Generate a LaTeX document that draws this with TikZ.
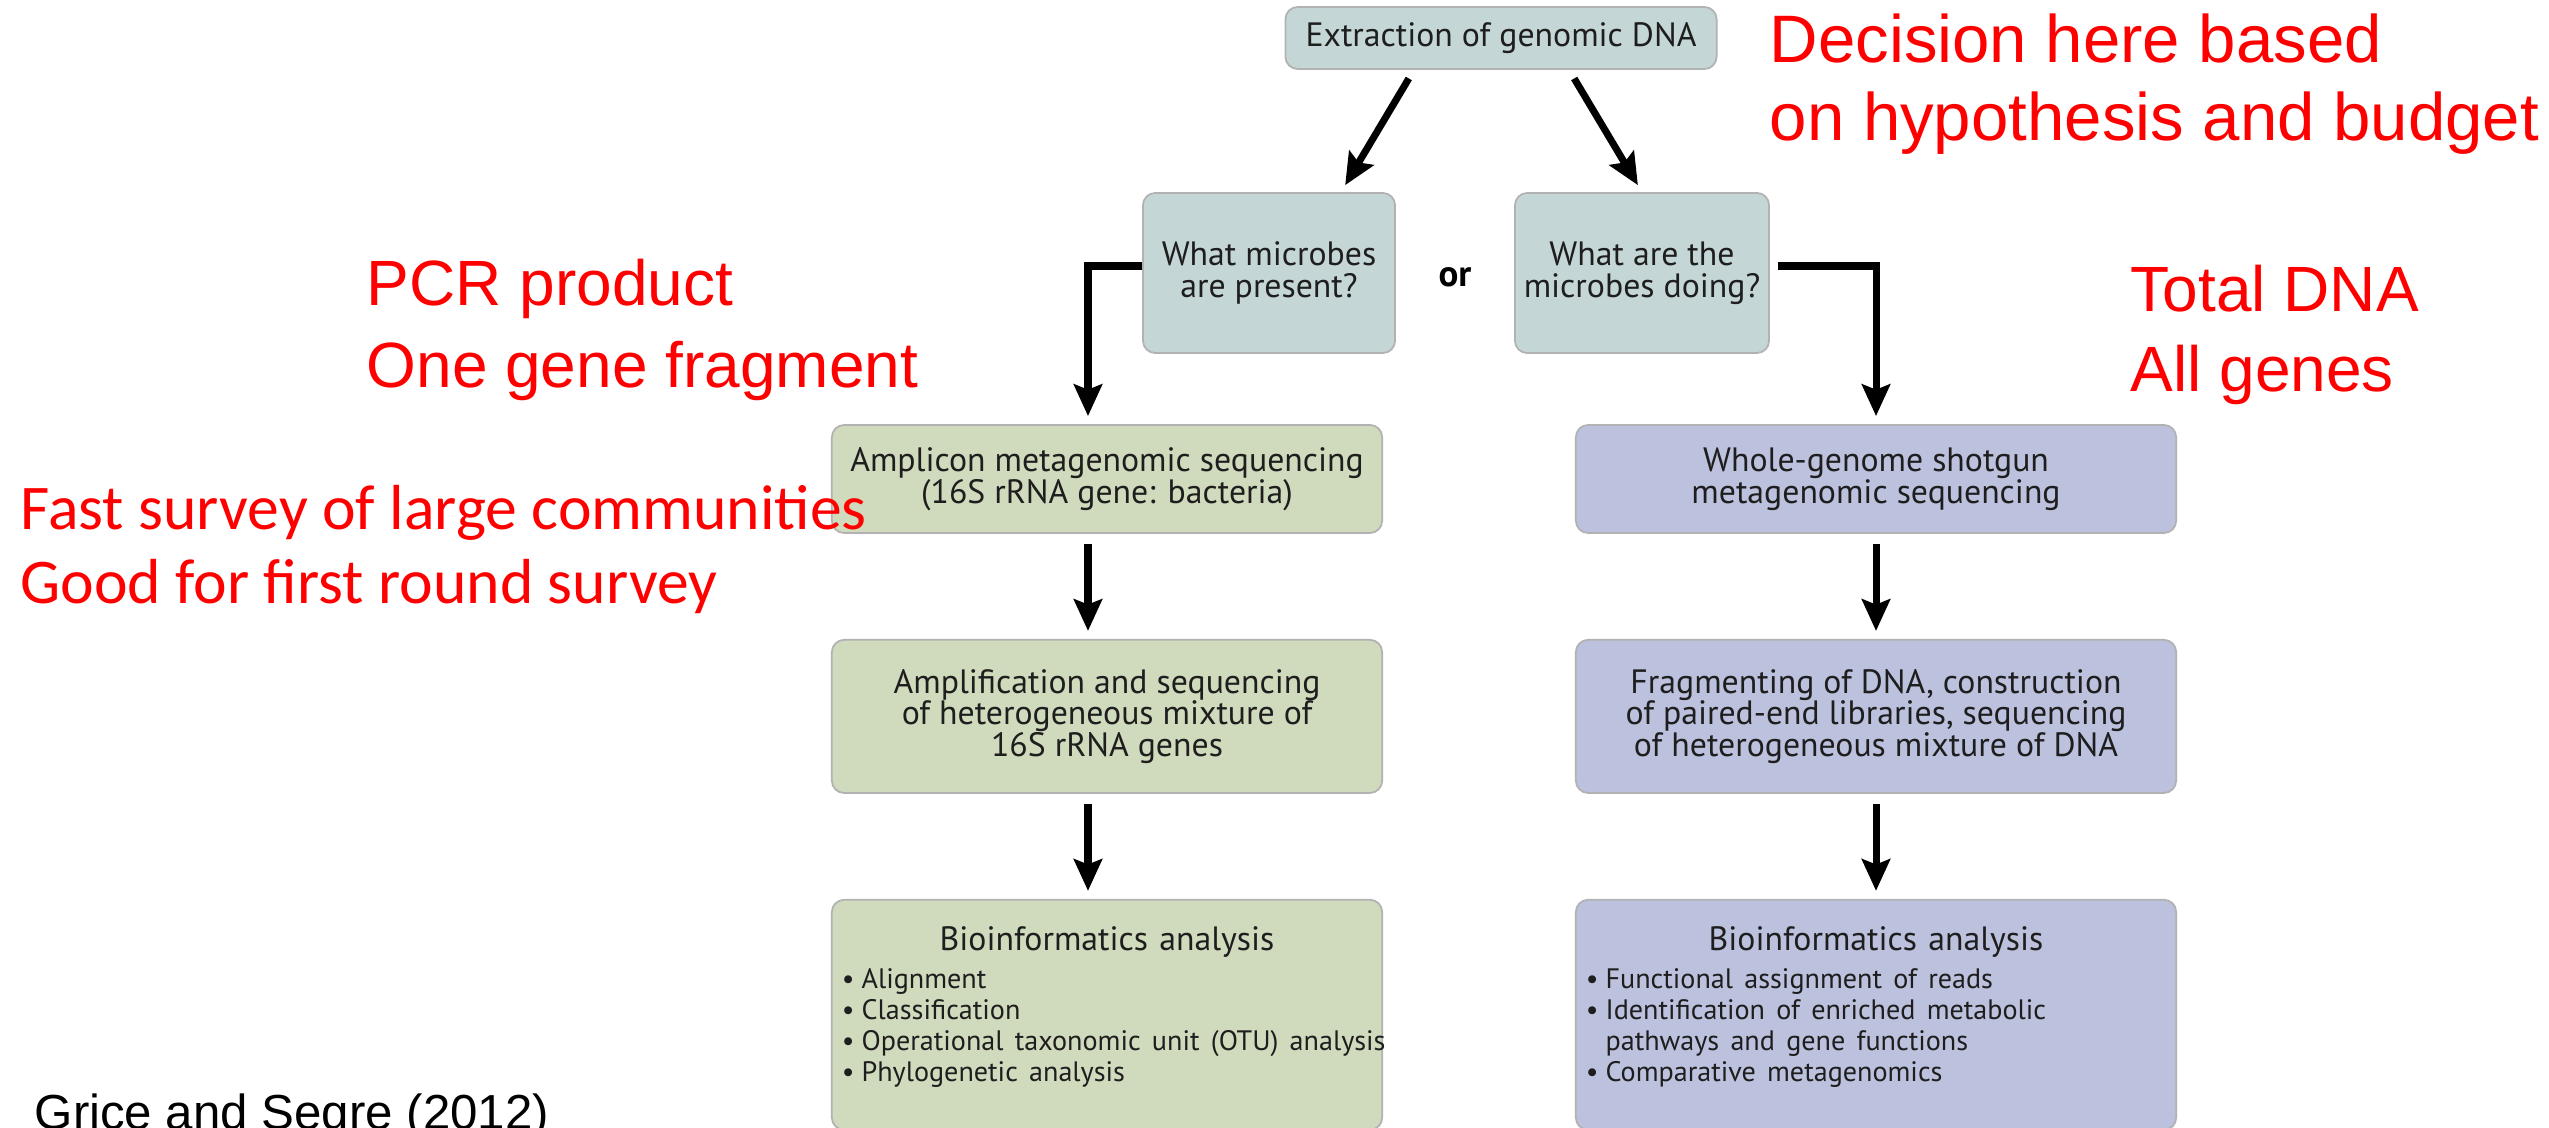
\documentclass[tikz,border=0pt]{standalone}
\usepackage{fontspec}
\setmainfont{PT Sans}
\newfontfamily\listfont{PT Sans}[WordSpace=0.7]
\newfontfamily\notefont{Liberation Sans}
\newfontfamily\calfont{Carlito}
\usetikzlibrary{positioning,arrows.meta}
\definecolor{tealfill}{RGB}{197,214,214}
\definecolor{greenfill}{RGB}{208,218,188}
\definecolor{bluefill}{RGB}{188,193,222}
\definecolor{boxtext}{RGB}{30,30,30}

\begin{document}
\begin{tikzpicture}[x=0.01cm, y=-0.01cm, node distance=1.05cm,
  box/.style={draw=black!30, line width=0.5pt, rounded corners=3.5pt, align=center,
              inner sep=2pt, text=boxtext, font=\fontsize{9.6}{9.0}\selectfont},
  askbox/.style={box, fill=tealfill},
  ampbox/.style={box, fill=greenfill, minimum width=5.5cm},
  wgsbox/.style={box, fill=bluefill, minimum width=6cm},
  arr/.style={-{Stealth[length=9pt, width=8pt, inset=1.5pt]}, line width=2pt,
              shorten <=0.1cm, shorten >=0.08cm},
  note/.style={text=red, inner sep=0pt, align=left, anchor=north west,
               font=\notefont\fontsize{18.2}{21.9}\selectfont}]
\path[use as bounding box, fill=white] (0,0) rectangle (2549,1128);

% question part
\node[askbox, minimum width=4.31cm, minimum height=0.62cm] (dna) at (1501,38) {Extraction of genomic DNA};
\node[askbox, minimum width=2.52cm, minimum height=1.6cm] (what) at (1269,273) {What microbes\\are present?};
\node[askbox, minimum width=2.54cm, minimum height=1.6cm] (doing) at (1642,273) {What are the\\microbes doing?};
\node[font=\bfseries\fontsize{10.5}{12}\selectfont] (or) at (1455,277) {or};

% amplicon column
\node[ampbox, minimum height=1.08cm] (amp) at (1107,479) {Amplicon metagenomic sequencing\\(16S rRNA gene: bacteria)};
\node[ampbox, minimum height=1.53cm, below=of amp] (ampseq) {Amplification and sequencing\\of heterogeneous mixture of\\16S rRNA genes};
\node[ampbox, minimum height=2.3cm, below=of ampseq, text width=5.3cm, inner xsep=0.1cm, align=left] (ampbio)
  {{\centering Bioinformatics analysis\par}\vspace{2pt}
   {\listfont\fontsize{8.0}{8.8}\selectfont
   \textbullet\kern2pt Alignment\\
   \textbullet\kern2pt Classification\\
   \mbox{\textbullet\kern2pt Operational taxonomic unit (OTU) analysis}\\
   \textbullet\kern2pt Phylogenetic analysis\par}\vspace{4.5pt}};

% shotgun column
\node[wgsbox, minimum height=1.08cm] (wgs) at (1876,479) {Whole-genome shotgun\\metagenomic sequencing};
\node[wgsbox, minimum height=1.53cm, below=of wgs] (frag) {Fragmenting of DNA, construction\\of paired-end libraries, sequencing\\of heterogeneous mixture of DNA};
\node[wgsbox, minimum height=2.3cm, below=of frag, text width=5.8cm, inner xsep=0.1cm, align=left] (wgsbio)
  {{\centering Bioinformatics analysis\par}\vspace{2pt}
   {\listfont\fontsize{8.0}{8.8}\selectfont
   \textbullet\kern2pt Functional assignment of reads\\
   \textbullet\kern2pt Identification of enriched metabolic\\
   \phantom{\textbullet\kern2pt}pathways and gene functions\\
   \textbullet\kern2pt Comparative metagenomics\par}\vspace{4.5pt}};

\draw[arr] ([xshift=-0.87cm]dna.south) -- ([xshift=0.72cm]what.north);
\draw[arr] ([xshift=0.68cm]dna.south) -- (doing.north);
\draw[arr, shorten <=0pt] ([yshift=0.07cm]what.west) -| ([xshift=-0.19cm]amp.north);
\draw[arr, shorten <=0pt] ([xshift=0.08cm, yshift=0.07cm]doing.east) -| (wgs.north);
\draw[arr] ([xshift=-0.19cm]amp.south) -- ([xshift=-0.19cm]ampseq.north);
\draw[arr] ([xshift=-0.19cm]ampseq.south) -- ([xshift=-0.19cm]ampbio.north);
\draw[arr] (wgs) -- (frag);
\draw[arr] (frag) -- (wgsbio);

% red remarks
\node[note, font=\notefont\fontsize{19.1}{22.2}\selectfont] (decision) at (1769,13) {Decision here based\\on hypothesis and budget};
\node[note, font=\notefont\fontsize{18.2}{23.5}\selectfont] (pcr) at (366,258) {PCR product\\One gene fragment};
\node[note, font=\notefont\fontsize{18.2}{22.8}\selectfont] (total) at (2130,264) {Total DNA\\All genes};
\node[note, font=\calfont\fontsize{18.1}{20.8}\selectfont] (fast) at (20,485) {Fast survey of large communities\\Good for first round survey};
\node[anchor=base west, inner sep=0pt, font=\notefont\fontsize{14}{16}\selectfont] (cite) at (34,1129) {Grice and Segre (2012)};
\end{tikzpicture}
\end{document}
